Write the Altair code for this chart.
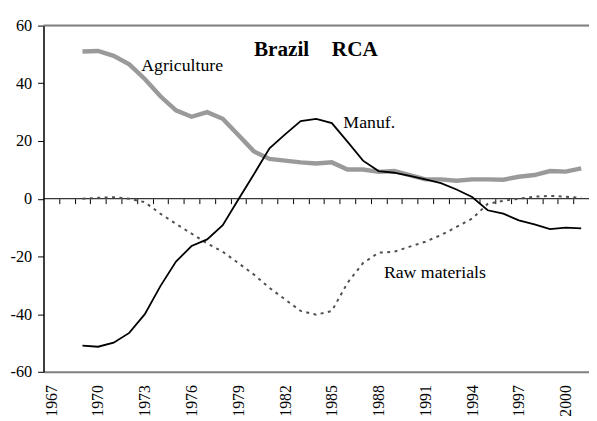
import altair as alt
import pandas as pd

years = list(range(1969, 2002))
agriculture = [51.0, 51.2, 49.5, 46.6, 41.5, 35.5, 30.6, 28.4, 30.0, 27.7, 22.1,
               16.4, 13.8, 13.2, 12.6, 12.2, 12.6, 10.1, 10.1, 9.3, 9.6, 8.2,
               6.7, 6.7, 6.2, 6.7, 6.7, 6.6, 7.6, 8.2, 9.6, 9.4, 10.5]
manufactures = [-50.9, -51.3, -49.9, -46.5, -40.0, -30.3, -21.8, -16.4, -14.1, -9.2, -0.3,
                8.5, 17.5, 22.3, 26.9, 27.7, 26.2, 19.8, 13.2, 9.6, 9.0, 7.9,
                6.7, 5.4, 3.2, 0.6, -4.0, -5.2, -7.5, -8.9, -10.5, -10.0, -10.3]
raw_materials = [0.0, 0.3, 0.5, 0.0, -1.2, -5.2, -8.7, -12.1, -15.5, -18.4, -22.3,
                 -26.3, -30.9, -34.9, -38.9, -40.2, -38.9, -29.2, -22.3, -18.7, -18.4, -16.6,
                 -14.9, -12.6, -9.8, -6.9, -1.8, -0.7, 0.0, 0.7, 1.0, 0.7, 0.3]

label_years = list(range(1967, 2001, 3))
y_ticks = [-60, -40, -20, 0, 20, 40, 60]
category_edges = [y + 0.5 for y in range(1967, 2001)]

series_labels = ["Agriculture", "Manuf.", "Raw materials"]
label_years_pos = [1972.77, 1985.74, 1988.34]
label_values = [44.3, 24.4, -27.5]

title_words = ["Brazil", "RCA"]
title_years = [1980.0, 1985.0]
title_values = [49.5, 49.5]

FONT = "Liberation Serif"

df = pd.DataFrame({
    "year": years * 3,
    "value": agriculture + manufactures + raw_materials,
    "series": ["Agriculture"] * len(years) + ["Manufactures"] * len(years) + ["Raw"] * len(years),
})
ann = pd.DataFrame({"text": series_labels, "year": label_years_pos, "value": label_values})
ttl = pd.DataFrame({"text": title_words, "year": title_years, "value": title_values})
ref = pd.DataFrame({"level": [0, 60]})

xscale = alt.Scale(domain=[1966.5, 2001.5], nice=False, zero=False)
yscale = alt.Scale(domain=[-60, 60], nice=False, zero=False)

x_labels = alt.X("year:Q", scale=xscale, axis=alt.Axis(
    values=label_years, format="d", labelAngle=270, labelFont=FONT, labelFontSize=16,
    labelColor="black", labelPadding=13, ticks=False, domain=True, domainColor="#808080",
    domainWidth=2, grid=False, title=None, labelOverlap=False, labelFlush=False))
x_ticks = alt.X("year:Q", scale=xscale, axis=alt.Axis(
    orient="bottom", offset=-175.5, values=category_edges, labels=False, ticks=True,
    tickSize=5, tickColor="black", tickWidth=1, domain=False, grid=False, title=None))
x_plain = alt.X("year:Q", scale=xscale, axis=None)

y_axis = alt.Axis(
    values=y_ticks, labelExpr="'' + datum.value", domainColor="black", domainWidth=1.5,
    tickColor="black", tickSize=6, tickWidth=1, labelFont=FONT, labelFontSize=16.5,
    labelColor="black", labelPadding=6, grid=False, title=None, labelFlush=False)


def yenc(field):
    return alt.Y(field, scale=yscale, axis=y_axis)


zero_line = alt.Chart(ref).transform_filter(alt.datum.level == 0).mark_rule(
    color="black", strokeWidth=1).encode(y=yenc("level:Q"))
top_border = alt.Chart(ref).transform_filter(alt.datum.level == 60).mark_rule(
    color="#808080", strokeWidth=2).encode(y=yenc("level:Q"))

agri = alt.Chart(df).transform_filter(alt.datum.series == "Agriculture").mark_line(
    color="#9a9a9a", strokeWidth=4.5).encode(x=x_labels, y=yenc("value:Q"))
raw = alt.Chart(df).transform_filter(alt.datum.series == "Raw").mark_line(
    color="#505050", strokeWidth=2, strokeDash=[3, 4.5]).encode(x=x_plain, y=yenc("value:Q"))
manuf = alt.Chart(df).transform_filter(alt.datum.series == "Manufactures").mark_line(
    color="black", strokeWidth=1.8).encode(x=x_ticks, y=yenc("value:Q"))

labels = alt.Chart(ann).mark_text(align="left", baseline="alphabetic", font=FONT,
                                  fontSize=18, color="black").encode(
    x=x_plain, y=yenc("value:Q"), text="text:N")
title = alt.Chart(ttl).mark_text(align="left", baseline="alphabetic", font=FONT,
                                 fontSize=21.5, fontWeight="bold", color="black").encode(
    x=x_plain, y=yenc("value:Q"), text="text:N")

chart = alt.layer(agri, zero_line, top_border, raw, manuf, labels, title).resolve_axis(
    x="independent"
).properties(
    width=553, height=351,
    padding={"left": 36, "top": 15, "right": 0, "bottom": 47},
    autosize=alt.AutoSizeParams(type="none"),
).configure_view(fill="#f8f8f8", stroke=None).configure(background="white")

chart.save("out.html", embed_options={"renderer": "svg", "actions": False})
